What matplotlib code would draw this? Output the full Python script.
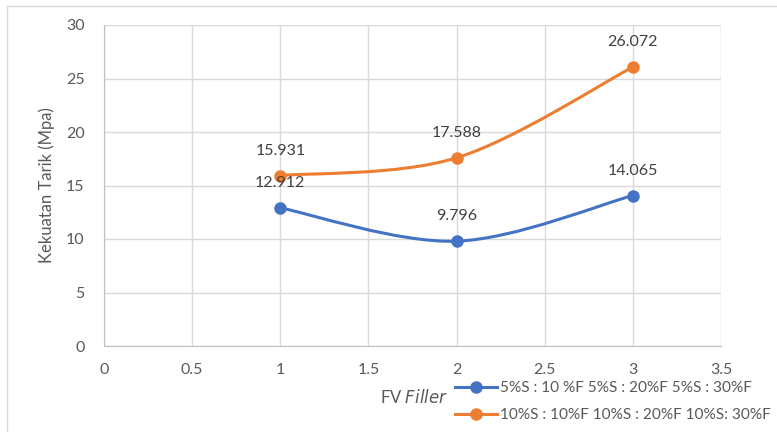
import numpy as np
import matplotlib
matplotlib.use("Agg")
from matplotlib import pyplot as plt
from matplotlib.path import Path
from matplotlib.patches import PathPatch, Rectangle
from matplotlib.lines import Line2D

fv_filler = [1, 2, 3]
tarik_5s = [12.912, 9.796, 14.065]
tarik_10s = [15.931, 17.588, 26.072]
label_5s = "5%S : 10 %F 5%S : 20%F 5%S : 30%F"
label_10s = "10%S : 10%F 10%S : 20%F 10%S: 30%F"

BLUE = "#4472C4"
ORANGE = "#ED7D31"
TEXT = "#595959"

plt.rcParams["font.family"] = ["Lato", "DejaVu Sans"]


def smooth_path(xs, ys):
    # bezier segments like a spreadsheet "smoothed line"
    pts = np.column_stack([xs, ys]).astype(float)
    ext = np.vstack([pts[0], pts, pts[-1]])
    verts = [pts[0]]
    codes = [Path.MOVETO]
    for i in range(len(pts) - 1):
        p0, p1, p2, p3 = ext[i], ext[i + 1], ext[i + 2], ext[i + 3]
        c1 = p1 + (p2 - p0) / 6
        c2 = p2 - (p3 - p1) / 6
        verts += [c1, c2, p2]
        codes += [Path.CURVE4] * 3
    return Path(verts, codes)


def draw_series(ax, xs, ys, color):
    ax.add_patch(PathPatch(smooth_path(xs, ys), fill=False, edgecolor=color,
                           lw=2.2, capstyle="round", zorder=3))
    ax.plot(xs, ys, "o", color=color, ms=8, zorder=4)
    for x, y in zip(xs, ys):
        ax.annotate(f"{y:.3f}", (x, y), xytext=(0, 25), textcoords="offset pixels",
                    ha="center", va="center", fontsize=11.5, color="#404040", zorder=5)


fig = plt.figure(figsize=(7.77, 4.32), dpi=100)
fig.patches.append(Rectangle((7 / 777, -0.1), 1.0, 1 - 6 / 432 + 0.1, transform=fig.transFigure,
                             fill=False, edgecolor="#d9d9d9", lw=1.0))
ax = fig.add_axes([104 / 777, 86 / 432, 617 / 777, 321 / 432])

draw_series(ax, fv_filler, tarik_5s, BLUE)
draw_series(ax, fv_filler, tarik_10s, ORANGE)

ax.set_xlim(0, 3.5)
ax.set_ylim(0, 30)
ax.set_xticks(np.arange(0, 3.51, 0.5))
ax.set_xticklabels(["0", "0.5", "1", "1.5", "2", "2.5", "3", "3.5"])
ax.set_yticks(np.arange(0, 31, 5))
ax.grid(True, color="#d9d9d9", lw=1.0)
ax.set_axisbelow(True)
for side in ["top", "right"]:
    ax.spines[side].set_visible(False)
for side in ["left", "bottom"]:
    ax.spines[side].set_color("#bfbfbf")
ax.tick_params(length=0, labelsize=11.5, labelcolor=TEXT, pad=12)
ax.tick_params(axis="y", pad=14)

ax.set_ylabel("Kekuatan Tarik (Mpa)", fontsize=12, color=TEXT, labelpad=8)
fig.text(414 / 777, 1 - 397 / 432, "FV $\\it{Filler}$", ha="center", va="center",
         fontsize=12, color=TEXT)

handles = [Line2D([], [], color=BLUE, lw=2.2, marker="o", ms=8),
           Line2D([], [], color=ORANGE, lw=2.2, marker="o", ms=8)]
fig.legend(handles, [label_5s, label_10s], loc="upper left",
           bbox_to_anchor=(455 / 777, 1 - 381 / 432), frameon=False,
           fontsize=11.1, labelcolor=TEXT, handlelength=2.7, handletextpad=0.2,
           labelspacing=0.85, borderpad=0, borderaxespad=0)

fig.savefig("out.png", dpi=100)
